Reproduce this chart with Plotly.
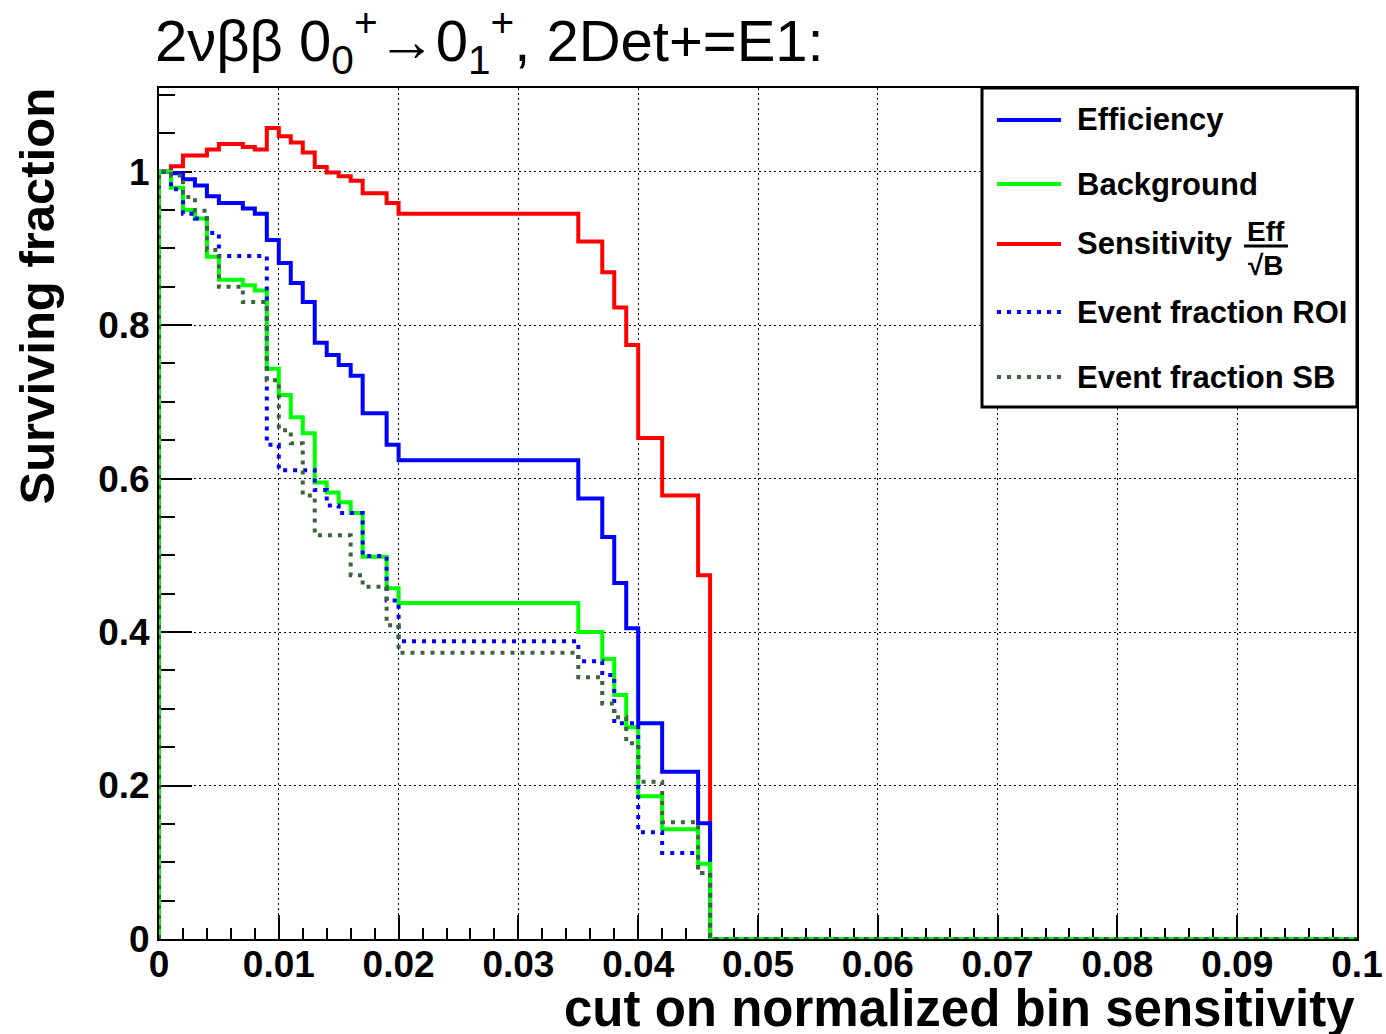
import plotly.graph_objects as go

# Histogram binning of the cut variable
BIN_WIDTH = 0.001
X_MAX = 0.1
Y_MAX = 1.109

# Surviving fractions per bin (bins 0 .. 45; all later bins are empty)
efficiency = [1.000, 0.998, 0.990, 0.982, 0.968, 0.959, 0.959, 0.952, 0.945, 0.911,
              0.881, 0.855, 0.830, 0.777, 0.761, 0.748, 0.734, 0.685, 0.685, 0.644,
              0.624, 0.624, 0.624, 0.624, 0.624, 0.624, 0.624, 0.624, 0.624, 0.624,
              0.624, 0.624, 0.624, 0.624, 0.624, 0.574, 0.574, 0.524, 0.464, 0.405,
              0.281, 0.281, 0.218, 0.218, 0.218, 0.151]

background = [1.000, 0.979, 0.950, 0.939, 0.889, 0.859, 0.859, 0.852, 0.845, 0.743,
              0.709, 0.680, 0.659, 0.595, 0.582, 0.569, 0.555, 0.498, 0.498, 0.457,
              0.438, 0.438, 0.438, 0.438, 0.438, 0.438, 0.438, 0.438, 0.438, 0.438,
              0.438, 0.438, 0.438, 0.438, 0.438, 0.400, 0.400, 0.365, 0.318, 0.276,
              0.186, 0.186, 0.143, 0.143, 0.143, 0.098]

sensitivity = [1.000, 1.007, 1.021, 1.021, 1.029, 1.036, 1.036, 1.032, 1.029, 1.057,
               1.046, 1.038, 1.025, 1.006, 0.999, 0.994, 0.988, 0.972, 0.972, 0.959,
               0.945, 0.945, 0.945, 0.945, 0.945, 0.945, 0.945, 0.945, 0.945, 0.945,
               0.945, 0.945, 0.945, 0.945, 0.945, 0.909, 0.909, 0.869, 0.823, 0.774,
               0.653, 0.653, 0.578, 0.578, 0.578, 0.474]

frac_roi = [1.000, 0.977, 0.945, 0.939, 0.920, 0.890, 0.890, 0.890, 0.890, 0.644,
            0.611, 0.611, 0.611, 0.585, 0.565, 0.555, 0.555, 0.499, 0.499, 0.441,
            0.388, 0.388, 0.388, 0.388, 0.388, 0.388, 0.388, 0.388, 0.388, 0.388,
            0.388, 0.388, 0.388, 0.388, 0.388, 0.362, 0.362, 0.344, 0.281, 0.281,
            0.139, 0.139, 0.112, 0.112, 0.112, 0.086]

frac_sb = [1.000, 0.995, 0.967, 0.949, 0.898, 0.850, 0.850, 0.830, 0.830, 0.728,
           0.663, 0.646, 0.578, 0.526, 0.526, 0.526, 0.474, 0.459, 0.459, 0.409,
           0.373, 0.373, 0.373, 0.373, 0.373, 0.373, 0.373, 0.373, 0.373, 0.373,
           0.373, 0.373, 0.373, 0.373, 0.373, 0.341, 0.341, 0.307, 0.289, 0.255,
           0.205, 0.205, 0.152, 0.152, 0.152, 0.086]

x_ticks = [0, 0.01, 0.02, 0.03, 0.04, 0.05, 0.06, 0.07, 0.08, 0.09, 0.1]
y_ticks = [0, 0.2, 0.4, 0.6, 0.8, 1.0]

# Series: (name, values, colour, dash) in drawing order
series = [
    ("Sensitivity", sensitivity, "#ff0000", "solid"),
    ("Efficiency", efficiency, "#0000ff", "solid"),
    ("Background", background, "#00ff00", "solid"),
    ("Event fraction ROI", frac_roi, "#0000ff", "4px,6px"),
    ("Event fraction SB", frac_sb, "#3c643c", "4px,6px"),
]
legend_order = ["Efficiency", "Background", "Sensitivity", "Event fraction ROI", "Event fraction SB"]

W, H = 1386, 1034
ML, MR, MT, MB = 159, 29, 88, 95
PW, PH = W - ML - MR, H - MT - MB


def step_xy(vals):
    """Histogram outline: rise from zero at the left edge, one flat step per bin."""
    xs, ys = [0.0], [0.0]
    for i, v in enumerate(vals):
        xs.append(round(i * BIN_WIDTH, 4))
        ys.append(v)
    xs += [round(len(vals) * BIN_WIDTH, 4), X_MAX]
    ys += [0.0, 0.0]
    return xs, ys


def px(x):
    return (x - ML) / PW


def py(y):
    return (H - MB - y) / PH


fig = go.Figure()
for name, vals, color, dash in series:
    xs, ys = step_xy(vals)
    fig.add_trace(go.Scatter(x=xs, y=ys, mode="lines", name=name, showlegend=False,
                             line=dict(color=color, width=4, dash=dash, shape="hv")))

SANS = "Liberation Sans, Arial, sans-serif"
BOLD = dict(family=SANS, color="black", weight="bold")
axis_common = dict(showline=True, mirror=True, linecolor="black", linewidth=2,
                   ticks="inside", tickcolor="black", tickwidth=2, automargin=False,
                   showgrid=True, gridcolor="black", gridwidth=1, griddash="2px,3px",
                   zeroline=False, layer="below traces")

fig.update_layout(
    width=W, height=H,
    margin=dict(l=ML, r=MR, t=MT, b=MB),
    paper_bgcolor="white", plot_bgcolor="white",
    xaxis=dict(range=[0, X_MAX], tickvals=x_ticks, ticklen=24, ticklabelstandoff=-8,
               tickfont=dict(size=37, **BOLD),
               minor=dict(dtick=0.002, ticks="inside", ticklen=11, tickwidth=2,
                          tickcolor="black", showgrid=False),
               **axis_common),
    yaxis=dict(range=[0, Y_MAX], tickvals=y_ticks, ticklen=33,
               tickfont=dict(size=37, **BOLD),
               minor=dict(dtick=0.05, ticks="inside", ticklen=16, tickwidth=2,
                          tickcolor="black", showgrid=False),
               **axis_common),
)

ann = []
# Title
ann.append(dict(text="2νββ 0<sub>0</sub><sup>+</sup>→0<sub>1</sub><sup>+</sup>, 2Det+=E1:",
                x=px(153), y=py(41), xref="paper", yref="paper",
                xanchor="left", yanchor="middle", showarrow=False,
                font=dict(family=SANS, size=58, color="black")))
# Axis titles
ann.append(dict(text="cut on normalized bin sensitivity", x=px(1357), y=py(1009),
                xref="paper", yref="paper", xanchor="right", yanchor="middle",
                showarrow=False, font=dict(size=51, **BOLD)))
ann.append(dict(text="Surviving fraction", x=px(36), y=py(86), textangle=-90,
                xref="paper", yref="paper", xanchor="center", yanchor="top",
                showarrow=False, font=dict(size=49, **BOLD)))

shapes = []
# Legend box
shapes.append(dict(type="rect", xref="paper", yref="paper",
                   x0=px(982), x1=px(1357), y0=py(407), y1=py(88),
                   line=dict(color="black", width=3), fillcolor="white", layer="above"))
style = {name: (color, dash) for name, _, color, dash in series}
row_y = {"Efficiency": 120, "Background": 184, "Sensitivity": 244,
         "Event fraction ROI": 312, "Event fraction SB": 377}
for name in legend_order:
    ry = row_y[name]
    color, dash = style[name]
    shapes.append(dict(type="line", xref="paper", yref="paper",
                       x0=px(997), x1=px(1061), y0=py(ry), y1=py(ry),
                       line=dict(color=color, width=4, dash=dash), layer="above"))
    ann.append(dict(text=name, x=px(1075), y=py(ry), xref="paper", yref="paper",
                    xanchor="left", yanchor="middle", showarrow=False,
                    font=dict(size=31, **BOLD)))
# Eff / sqrt(B) fraction beside the sensitivity entry
ann.append(dict(text="Eff", x=px(1266), y=py(231), xref="paper", yref="paper",
                xanchor="center", yanchor="middle", showarrow=False,
                font=dict(size=28, **BOLD)))
ann.append(dict(text="√B", x=px(1266), y=py(265), xref="paper", yref="paper",
                xanchor="center", yanchor="middle", showarrow=False,
                font=dict(size=28, **BOLD)))
shapes.append(dict(type="line", xref="paper", yref="paper",
                   x0=px(1244), x1=px(1288), y0=py(246), y1=py(246),
                   line=dict(color="black", width=3), layer="above"))

fig.update_layout(annotations=ann, shapes=shapes)
fig.write_html("out.html")
